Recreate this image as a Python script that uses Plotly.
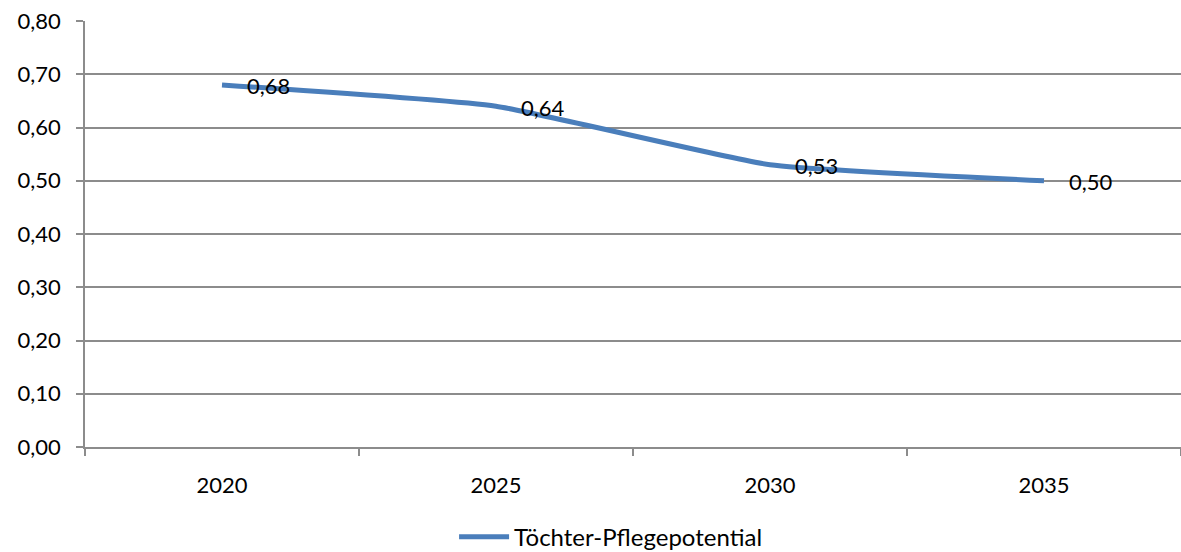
import plotly.graph_objects as go

years = ["2020", "2025", "2030", "2035"]
values = [0.68, 0.64, 0.53, 0.50]
series_name = "Töchter-Pflegepotential"
y_ticks = [0.0, 0.1, 0.2, 0.3, 0.4, 0.5, 0.6, 0.7, 0.8]

font_family = "Lato, 'Noto Sans', sans-serif"
grid_color = "#8C8C8C"
line_color = "#4A7EBB"

fig = go.Figure()
fig.add_trace(go.Scatter(
    x=years, y=values, name=series_name,
    mode="lines",
    line=dict(color=line_color, width=5, shape="spline", smoothing=0.4),
    showlegend=True,
))

# value labels just to the right of each point (category axis -> index positions)
for i, v in enumerate(values):
    fig.add_annotation(
        x=i, y=v, xref="x", yref="y", text=f"{v:.2f}".replace(".", ","),
        showarrow=False, xanchor="left", yanchor="middle",
        xshift=23, yshift=-1, font=dict(family=font_family, size=22, color="#000000"),
    )

fig.update_layout(
    width=1181, height=552,
    margin=dict(l=85, r=0, t=21, b=105, autoexpand=False),
    paper_bgcolor="white", plot_bgcolor="white",
    separators=",.",
    font=dict(family=font_family, size=22, color="#000000"),
    legend=dict(orientation="h", xref="container", yref="container",
                x=0.517, xanchor="center", y=0.027, yanchor="middle",
                font=dict(size=24), itemwidth=50),
    xaxis=dict(
        type="category", range=[-0.5, 3.5],
        showgrid=False, showline=True, linecolor=grid_color, linewidth=1.5,
        ticks="outside", tickson="boundaries", ticklen=7, tickcolor=grid_color, tickwidth=1.5,
        ticklabelstandoff=18, tickfont=dict(size=22),
    ),
    yaxis=dict(
        range=[0, 0.8], tickvals=y_ticks, tickformat=".2f",
        showgrid=True, gridcolor=grid_color, gridwidth=1.5,
        showline=True, linecolor=grid_color, linewidth=1.5,
        ticks="outside", ticklen=7, tickcolor=grid_color, tickwidth=1.5,
        ticklabelstandoff=11, tickfont=dict(size=22), zeroline=False,
    ),
)

fig.write_html("out.html")
